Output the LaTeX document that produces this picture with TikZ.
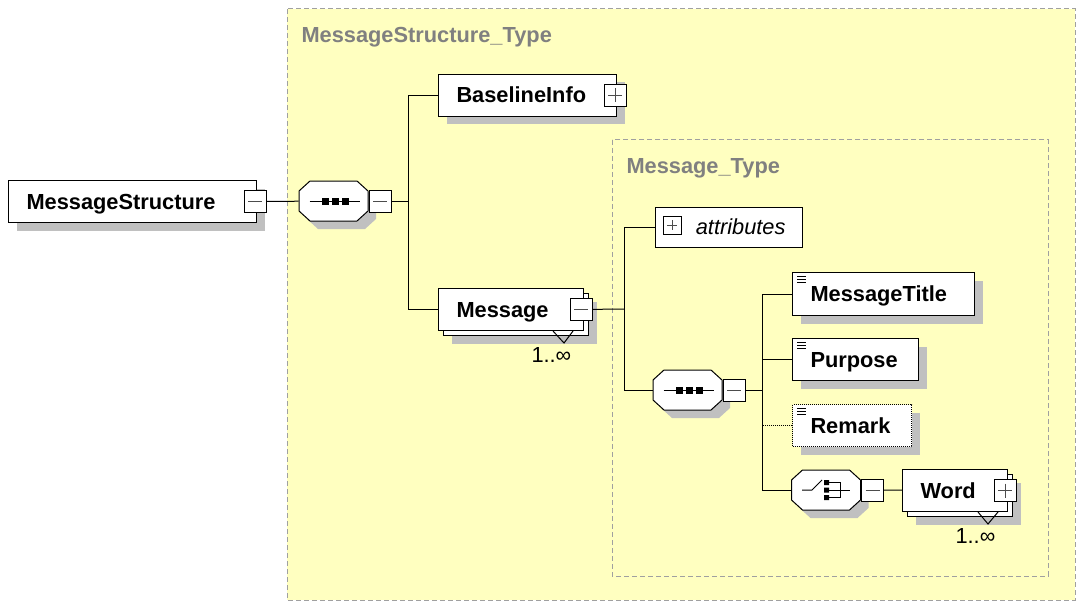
\documentclass[tikz,border=0pt]{standalone}
\usepackage{fontspec}
\setmainfont{Liberation Sans}[Scale=2.18]
\usetikzlibrary{positioning,shadows}
\definecolor{typefill}{RGB}{255,255,192}
\definecolor{typeline}{RGB}{160,160,160}
\definecolor{typetext}{RGB}{128,128,128}
\definecolor{shadowgray}{RGB}{192,192,192}
\tikzset{every picture/.style={line width=1pt}}
\tikzstyle{typebox}=[draw=typeline,fill=typefill,dash pattern=on 5pt off 3pt]
\tikzstyle{typename}=[anchor=base west,inner sep=0pt,text=typetext,font=\bfseries]
\tikzstyle{elem}=[draw,fill=white,anchor=north west,align=left,inner xsep=18pt,inner ysep=0pt,text height=15pt,text depth=0pt,minimum height=42pt,font=\bfseries]
\tikzstyle{single}=[elem,drop shadow={shadow xshift=8pt,shadow yshift=-8pt,fill=shadowgray,opacity=1}]
\tikzstyle{multi}=[elem,drop shadow={shadow xshift=13pt,shadow yshift=-13pt,fill=shadowgray,opacity=1},copy shadow={shadow xshift=5pt,shadow yshift=-5pt,fill=white,draw=black}]
\tikzstyle{compos}=[rectangle,minimum width=69pt,minimum height=40pt,inner sep=0pt]
\tikzstyle{signline}=[black!70,line width=1pt]
\tikzstyle{minusbox}=[draw,fill=white,minimum size=22pt,inner sep=0pt,path picture={\draw[signline] ([xshift=4pt]path picture bounding box.west) -- ([xshift=-4pt]path picture bounding box.east);}]
\tikzstyle{plusbox}=[draw,fill=white,minimum size=22pt,inner sep=0pt,path picture={\draw[signline] ([xshift=4pt]path picture bounding box.west) -- ([xshift=-4pt]path picture bounding box.east) ([yshift=-4pt]path picture bounding box.north) -- ([yshift=4pt]path picture bounding box.south);}]
\tikzstyle{elbow}=[to path={|- (\tikztotarget)}]
\tikzstyle{occurs}=[anchor=base west,inner sep=0pt]
\tikzset{
  octa/.pic={
    \fill[shadowgray,shift={(8,8)}] (-23.5,-20) -- (23.5,-20) -- (34.5,-10) -- (34.5,10) -- (23.5,20) -- (-23.5,20) -- (-34.5,10) -- (-34.5,-10) -- cycle;
    \draw[fill=white] (-23.5,-20) -- (23.5,-20) -- (34.5,-10) -- (34.5,10) -- (23.5,20) -- (-23.5,20) -- (-34.5,10) -- (-34.5,-10) -- cycle;
  },
  seqicon/.pic={
    \draw (-24,0) -- (26,0);
    \foreach \i in {-8,2,12} \fill (\i-3.5,-3.5) rectangle (\i+3.5,3.5);
  },
  choiceicon/.pic={
    \draw (-24,0) -- (-14,0) -- (-4,-10);
    \fill (-2,-10) rectangle (3,-5) (-2,-2.5) rectangle (3,2.5) (-2,5) rectangle (3,10);
    \draw (3,-7.5) -- (14,-7.5) -- (14,7.5) -- (3,7.5) (3,0) -- (24,0);
  }
}

\begin{document}
\begin{tikzpicture}[x=1pt,y=-1pt]
\useasboundingbox (0,0) rectangle (1084,607);
% type boxes
\draw[typebox] (287,9) rectangle (1075,600);
\node[typename] (T1) at (301,43) {MessageStructure\_Type};
\draw[typebox] (612,140) rectangle (1048,576);
\node[typename] (T2) at (626,173) {Message\_Type};
% elements and compositors
\node[single,text width=212pt] (A) at (8,180) {MessageStructure};
\node[minusbox] (Am) at ([xshift=-2pt]A.east) {};
\node[compos] (B) at (333.5,201) {};
\pic at (B.center) {octa};
\pic at (B.center) {seqicon};
\node[minusbox,right=0pt of B] (Bm) {};
\node[single,text width=142pt] (C) at (438,74) {BaselineInfo};
\node[plusbox] (Cp) at ([xshift=-2pt]C.east) {};
\node[multi,text width=109pt] (D) at (438,288) {Message};
\draw ([xshift=-31pt]D.south east) -- ++(11,12) -- ++(9,-12);
\node[minusbox] (Dm) at ([xshift=-3pt]D.east) {};
\node[occurs] (Dn) at (531,362) {1..∞};
\node[draw,fill=white,anchor=north west,minimum height=40pt,text width=113pt,align=right,inner xsep=17pt,inner ysep=0pt,text height=13pt,text depth=0pt,font=\itshape] (E) at (655,207) {attributes};
\node[plusbox,minimum size=18pt] (Ep) at (672,225) {};
\node[compos] (F) at (687.5,390) {};
\pic at (F.center) {octa};
\pic at (F.center) {seqicon};
\node[minusbox,right=0pt of F] (Fm) {};
\node[single,text width=146pt,minimum height=43pt] (G) at (792,272) {MessageTitle};
\node[single,text width=90pt] (H) at (792,338) {Purpose};
\node[single,text width=83pt,dash pattern=on 1pt off 1pt] (I) at (792,404) {Remark};
\foreach \n in {G,H,I}
  \foreach \d in {4pt,7pt,10pt}
    \draw[line width=0.8pt] ([xshift=5pt,yshift=-\d]\n.north west) -- ++(9,0);
\node[compos] (J) at (826,490) {};
\pic at (J.center) {octa};
\pic at (J.center) {choiceicon};
\node[minusbox,right=0pt of J] (Jm) {};
\node[multi,text width=69pt] (K) at (902,469) {Word};
\draw ([xshift=-30pt]K.south east) -- ++(10,12) -- ++(10,-12);
\node[plusbox] (Kp) at ([xshift=-3pt]K.east) {};
\node[occurs] (Kn) at (955,543) {1..∞};
% connectors
\coordinate (b1) at (408,201);
\coordinate (d1) at (624,309);
\coordinate (f1) at (762,390);
\path[draw]
(Am) edge (B)
(Bm) edge (b1)
(b1) edge[elbow] (C)
(b1) edge[elbow] (D)
(Dm) edge (d1)
(d1) edge[elbow] (E)
(d1) edge[elbow] (F)
(Fm) edge (f1)
(f1) edge[elbow] (G)
(f1) edge[elbow] (H)
(f1) edge[elbow] (J)
(Jm) edge (K);
\draw[dash pattern=on 1pt off 1pt] (I) -- (I -| f1);
\end{tikzpicture}
\end{document}
